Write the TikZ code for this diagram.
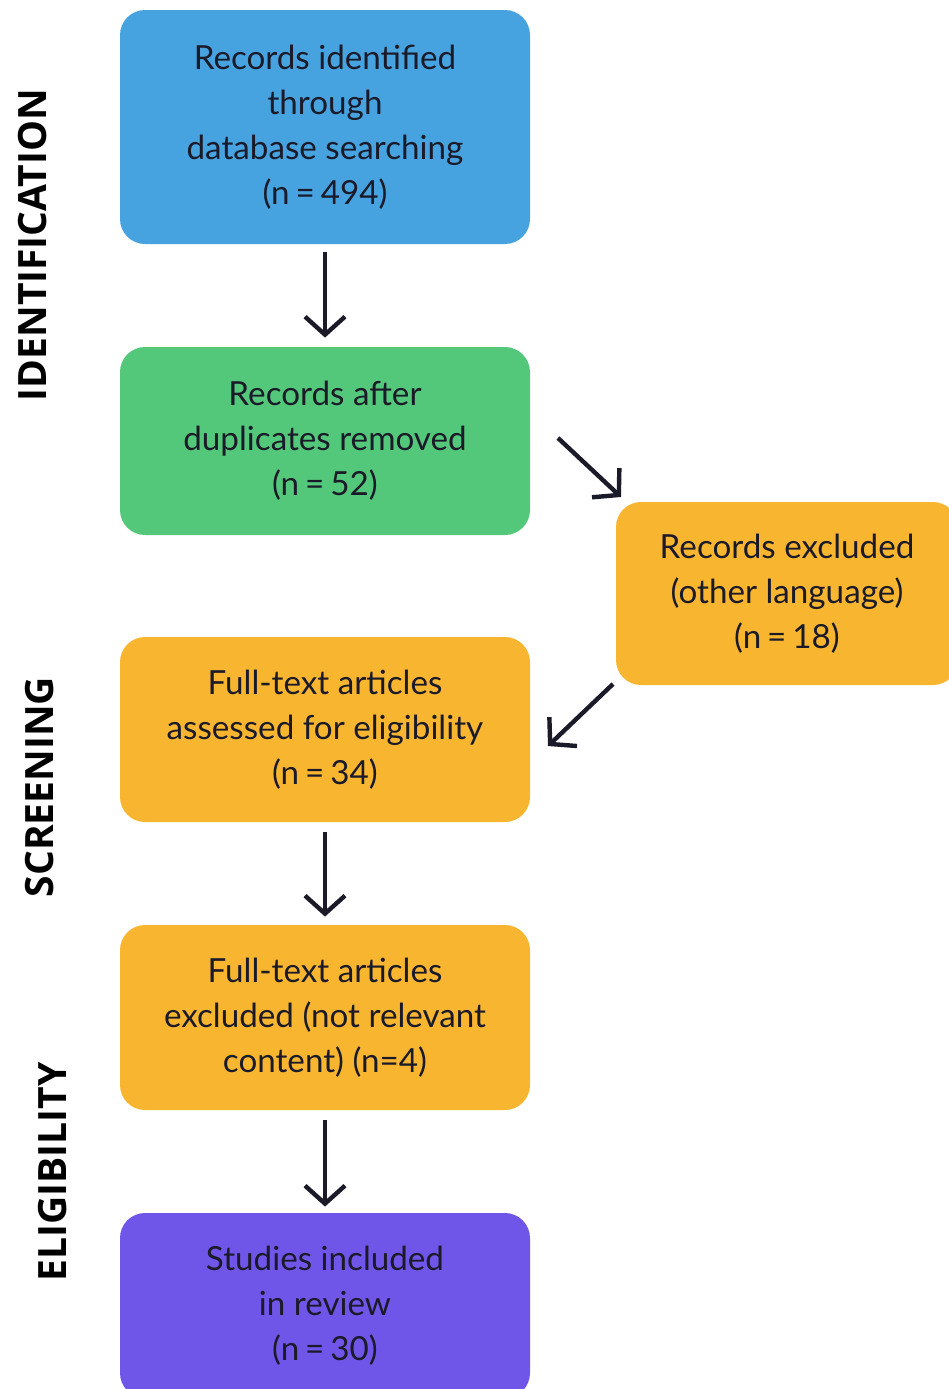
\documentclass[tikz,border=0pt]{standalone}
\usepackage{fontspec}
\setmainfont{Lato}
\newfontfamily\sidefont{Open Sans}
\usetikzlibrary{arrows.meta}
\definecolor{cblue}{RGB}{70,163,224}
\definecolor{cgreen}{RGB}{84,200,122}
\definecolor{corange}{RGB}{248,182,48}
\definecolor{cpurple}{RGB}{112,86,232}
\definecolor{ctext}{RGB}{26,26,40}
\newcommand{\myeq}{\hspace{0.18em}=\hspace{0.18em}}
\tikzset{
  box/.style={rounded corners=12.5pt, minimum width=205pt, align=center,
    font=\fontsize{16.6}{22.5}\selectfont, text=ctext, inner sep=0pt},
  flow/.style={line width=2.2pt, -{Straight Barb[length=9pt,width=20pt,line width=2.2pt]}, ctext},
  side/.style={rotate=90, font=\sidefont\bfseries\fontsize{19.5}{22}\selectfont, text=black}
}
\begin{document}
\begin{tikzpicture}[x=0.5pt,y=-0.5pt]
\useasboundingbox (0,0) rectangle (949,1389);
\node[box, fill=cblue, minimum height=117pt] (b1) at (325,127) {Records identified\\through\\database searching\\(n\myeq494)};
\node[box, fill=cgreen, minimum height=94pt] (b2) at (325,441) {Records after\\duplicates removed\\(n\myeq52)};
\node[box, fill=corange, minimum width=171pt, minimum height=91.5pt] (b3) at (787,593.5) {Records excluded\\(other language)\\(n\myeq18)};
\node[box, fill=corange, minimum height=92.5pt] (b4) at (325,729.5) {Full-text articles\\assessed for eligibility\\(n\myeq34)};
\node[box, fill=corange, minimum height=92.5pt] (b5) at (325,1017.5) {Full-text articles\\excluded (not relevant\\content) (n=4)};
\node[box, fill=cpurple, minimum height=92.5pt] (b6) at (325,1305.5) {Studies included\\in review\\(n\myeq30)};
\draw[flow, shorten <=4pt, shorten >=4.5pt] (b1.south) -- (b2.north);
\draw[flow, shorten <=5pt, shorten >=4pt] (b4.south) -- (b5.north);
\draw[flow, shorten <=5pt, shorten >=3pt] (b5.south) -- (b6.north);
\coordinate (d1s) at (558,438);
\coordinate (d1e) at (621,497);
\coordinate (d2s) at (613,684);
\coordinate (d2e) at (548,746);
\draw[flow] (d1s) -- (d1e);
\draw[flow] (d2s) -- (d2e);
\node[side] (l1) at (33,245) {IDENTIFICATION};
\node[side] (l2) at (40,787) {SCREENING};
\node[side] (l3) at (53,1172) {ELIGIBILITY};
\end{tikzpicture}
\end{document}
